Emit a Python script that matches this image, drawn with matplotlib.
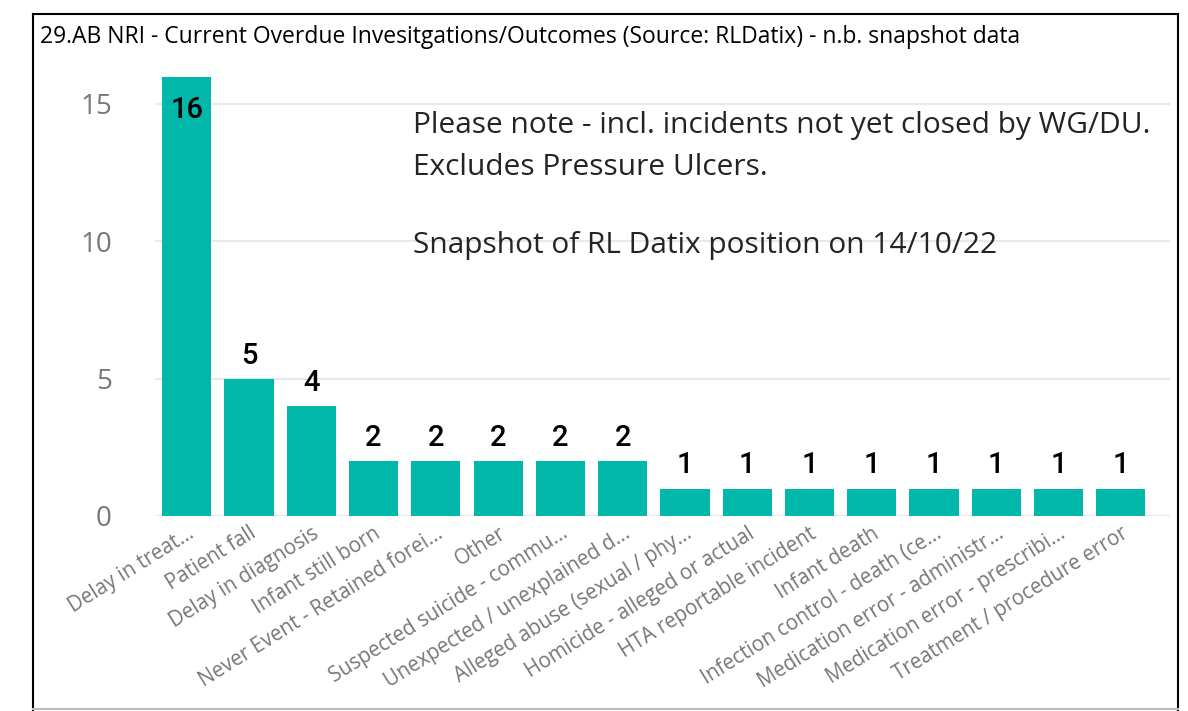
import matplotlib.pyplot as plt
from matplotlib.lines import Line2D

plt.rcParams['font.family'] = ['Open Sans', 'DejaVu Sans']

categories = ['Delay in treat...', 'Patient fall', 'Delay in diagnosis', 'Infant still born',
              'Never Event - Retained forei...', 'Other', 'Suspected suicide - commu...',
              'Unexpected / unexplained d...', 'Alleged abuse (sexual / phy...',
              'Homicide - alleged or actual', 'HTA reportable incident', 'Infant death',
              'Infection control - death (ce...', 'Medication error - administr...',
              'Medication error - prescribi...', 'Treatment / procedure error']
counts = [16, 5, 4, 2, 2, 2, 2, 2, 1, 1, 1, 1, 1, 1, 1, 1]
yticks = [0, 5, 10, 15]

title = '29.AB NRI - Current Overdue Invesitgations/Outcomes (Source: RLDatix) - n.b. snapshot data'
note_lines = ['Please note - incl. incidents not yet closed by WG/DU.',
              'Excludes Pressure Ulcers.',
              'Snapshot of RL Datix position on 14/10/22']

teal = '#01B8AA'

fig = plt.figure(figsize=(11.88, 7.11), dpi=100)
ax = fig.add_axes([155/1188, 1-516/711, 1015/1188, (516-76.5)/711])

x = list(range(len(categories)))
ax.bar(x, counts, width=0.79, color=teal, zorder=2)

lab_font = dict(fontsize=21, fontweight=500, family=['Roboto', 'DejaVu Sans'], color='black')
for xi, v in zip(x, counts):
    if v == max(counts):
        # biggest bar: label sits inside the top of the bar
        ax.text(xi, v - 1.51, str(v), ha='center', va='baseline', **lab_font)
    else:
        ax.text(xi, v + 0.55, str(v), ha='center', va='baseline', **lab_font)

ax.set_xlim(-0.51, 15.79)
ax.set_ylim(0, 16)
ax.set_yticks(yticks)
ax.set_yticklabels([str(t) for t in yticks], fontsize=20, color='#777777')
ax.yaxis.grid(True, color='#E8E8E8', linewidth=1.5, zorder=0)
ax.set_axisbelow(True)
ax.set_xticks(x)
ax.set_xticklabels(categories, rotation=32, ha='right', va='top',
                   rotation_mode='anchor', fontsize=14.8, color='#777777')
ax.tick_params(axis='both', length=0)
ax.tick_params(axis='y', pad=31)
ax.tick_params(axis='x', pad=5)
for s in ax.spines.values():
    s.set_visible(False)

# note text
note_y = [1-133/711, 1-175/711, 1-253/711]
for line, yy in zip(note_lines, note_y):
    fig.text(413/1188, yy, line, ha='left', va='baseline', fontsize=21.5, color='#252423')

fig.text(40/1188, 1-37/711, title, ha='left', va='center', fontsize=16.5, color='black')

# frame
fig.add_artist(Line2D([33/1188, 33/1188], [0, 1-14/711], color='black', lw=1.5))
fig.add_artist(Line2D([33/1188, 1178/1188], [1-14/711, 1-14/711], color='black', lw=1.5))
fig.add_artist(Line2D([1178/1188, 1178/1188], [0, 1-14/711], color='black', lw=1.5))
fig.add_artist(Line2D([33/1188, 1178/1188], [1-709/711, 1-709/711], color='#BBBBBB', lw=1.5))

fig.savefig('out.png', dpi=100)
